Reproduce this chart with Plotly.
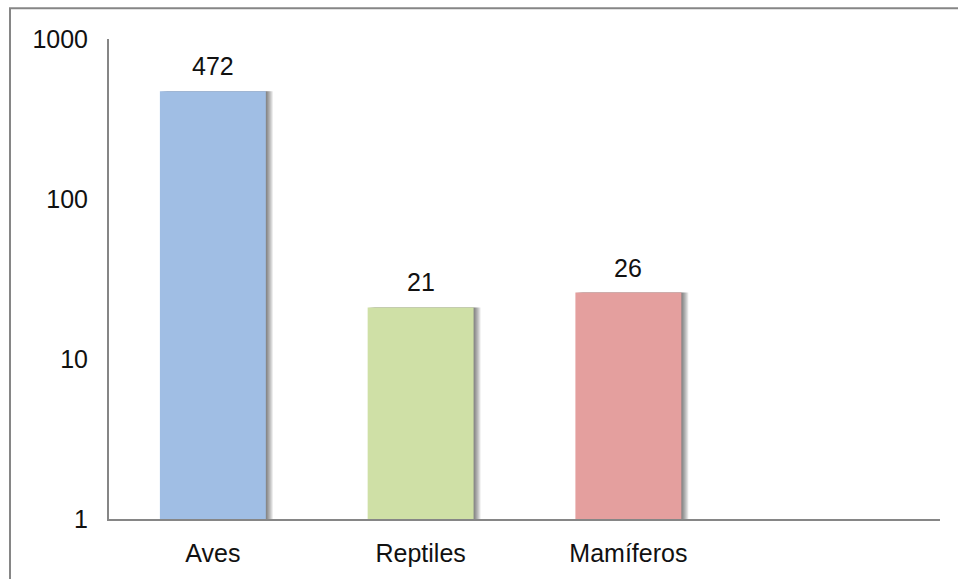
import math
import plotly.graph_objects as go

# Data
categories = ["Aves", "Reptiles", "Mamíferos"]
values = [472, 21, 26]
bar_colors = ["#A0BEE4", "#CFE0A6", "#E49F9E"]
y_ticks = [1, 10, 100, 1000]

BAR_W = 0.51
SLOT_PX = 208.0  # approximate pixel width of one category slot
FONT = "Liberation Sans, Arial"

fig = go.Figure()

# soft drop shadow: stacked translucent copies shifted to the right
for k in range(1, 8):
    fig.add_trace(go.Bar(
        x=categories, y=values,
        width=BAR_W, offset=-BAR_W / 2 + k / SLOT_PX,
        marker=dict(color="rgba(0,0,0,0.085)", line=dict(width=0)),
        hoverinfo="skip", showlegend=False,
    ))

fig.add_trace(go.Bar(
    x=categories, y=values,
    width=BAR_W, offset=-BAR_W / 2,
    marker=dict(color=bar_colors, line=dict(width=0)),
    showlegend=False,
))

# value labels above each bar
for c, v in zip(categories, values):
    fig.add_annotation(
        x=c, y=math.log10(v), text=str(v), showarrow=False,
        yanchor="bottom", yshift=9,
        font=dict(family=FONT, size=25, color="#111"),
    )

L, R, T, B = 109, 18, 39, 57
W, H = 958, 579
pw, ph = W - L - R, H - T - B

# outer frame around the chart area
fig.add_shape(
    type="rect", xref="paper", yref="paper",
    x0=(10 - L) / pw, x1=1.2, y0=-0.3, y1=(H - B - 8) / ph,
    line=dict(color="#868686", width=2), fillcolor="rgba(0,0,0,0)",
    layer="below",
)

fig.update_layout(
    width=W, height=H,
    margin=dict(l=L, r=R, t=T, b=B),
    barmode="overlay",
    plot_bgcolor="white", paper_bgcolor="white",
    font=dict(family=FONT, size=25, color="#111"),
    xaxis=dict(
        type="category", categoryorder="array", categoryarray=categories,
        range=[-0.5, 3.5], showgrid=False, zeroline=False,
        showline=True, linecolor="#868686", linewidth=2,
        ticks="", ticklabelstandoff=11,
        tickfont=dict(size=25),
    ),
    yaxis=dict(
        type="log", range=[0, 3], tickvals=y_ticks,
        ticktext=[str(t) for t in y_ticks],
        showgrid=False, zeroline=False,
        showline=True, linecolor="#868686", linewidth=2,
        ticks="", ticklabelstandoff=14,
        tickfont=dict(size=25),
    ),
)

fig.write_html("out.html")
